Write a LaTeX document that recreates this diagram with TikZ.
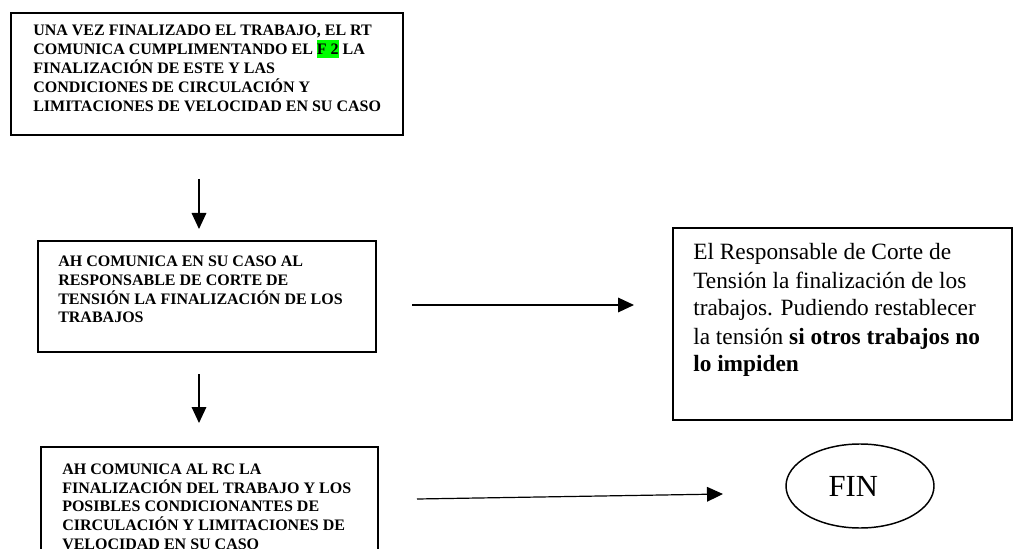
\documentclass[tikz,border=0pt]{standalone}
\usepackage{fontspec}
\setmainfont{Liberation Serif}
\usetikzlibrary{arrows.meta,shapes.geometric,fit}
\definecolor{hlgreen}{RGB}{0,255,0}
\newcommand\mylines[1]{\begin{tabular}[t]{@{}l@{}}#1\end{tabular}}
\begin{document}
\begin{tikzpicture}[x=0.75pt,y=-0.75pt,
  box/.style={draw=black,line width=1.3pt,inner sep=0pt,rectangle},
  arr/.style={-{Triangle[length=12pt,width=11pt]},line width=0.9pt},
  btext/.style={anchor=base west,inner sep=0pt,font=\fontsize{12pt}{13.75pt}\selectfont\bfseries},
  rtext/.style={anchor=base west,inner sep=0pt,font=\fontsize{17.5pt}{21pt}\selectfont},
  endnode/.style={draw=black,line width=1.1pt,ellipse,inner sep=0pt,minimum width=111pt,minimum height=63pt,font=\fontsize{23pt}{27pt}\selectfont}
]
\useasboundingbox (0,0) rectangle (1018,549);
\clip (0,0) rectangle (1018,549);

% boxes
\node[box,fit={(11,13) (403,135)}] (b1) {};
\node[box,fit={(38,241) (376,352)}] (b2) {};
\node[box,fit={(41,447) (378,570)}] (b3) {};
\node[box,fit={(673,228) (1012,420)}] (b4) {};
\node[endnode] (fin) at (860,486) {\hspace*{-10pt}FIN};

% texts
\node[btext] (t1) at (33,36) {\mylines{UNA VEZ FINALIZADO EL TRABAJO, EL RT\\
COMUNICA CUMPLIMENTANDO EL {\setlength{\fboxsep}{0pt}\smash{\colorbox{hlgreen}{\rule[-3pt]{0pt}{13.5pt}F 2}}} LA\\
FINALIZACIÓN DE ESTE Y LAS\\
CONDICIONES DE CIRCULACIÓN Y\\
LIMITACIONES DE VELOCIDAD EN SU CASO}};

\node[btext] (t2) at (58,267) {\mylines{AH COMUNICA EN SU CASO AL\\
RESPONSABLE DE CORTE DE\\
TENSIÓN LA FINALIZACIÓN DE LOS\\
TRABAJOS}};

\node[btext] (t3) at (62,474) {\mylines{AH COMUNICA AL RC LA\\
FINALIZACIÓN DEL TRABAJO Y LOS\\
POSIBLES CONDICIONANTES DE\\
CIRCULACIÓN Y LIMITACIONES DE\\
VELOCIDAD EN SU CASO}};

\node[rtext] (t4) at (693,260) {\mylines{El Responsable de Corte de\\
Tensión la finalización de los\\
trabajos. Pudiendo restablecer\\
la tensión \textbf{si otros trabajos no}\\
\textbf{lo impiden}}};

% connectors
\coordinate (v1s) at (199,179);
\coordinate (v1e) at (199,229);
\coordinate (v2s) at (199,374);
\coordinate (v2e) at (199,423);
\coordinate (h1s) at (412,305);
\coordinate (h1e) at (634,305);
\coordinate (h2s) at (417,499);
\coordinate (h2e) at (723,494);
\draw[arr] (v1s) -- (v1e);
\draw[arr] (v2s) -- (v2e);
\draw[arr] (h1s) -- (h1e);
\draw[arr] (h2s) -- (h2e);
\end{tikzpicture}
\end{document}
